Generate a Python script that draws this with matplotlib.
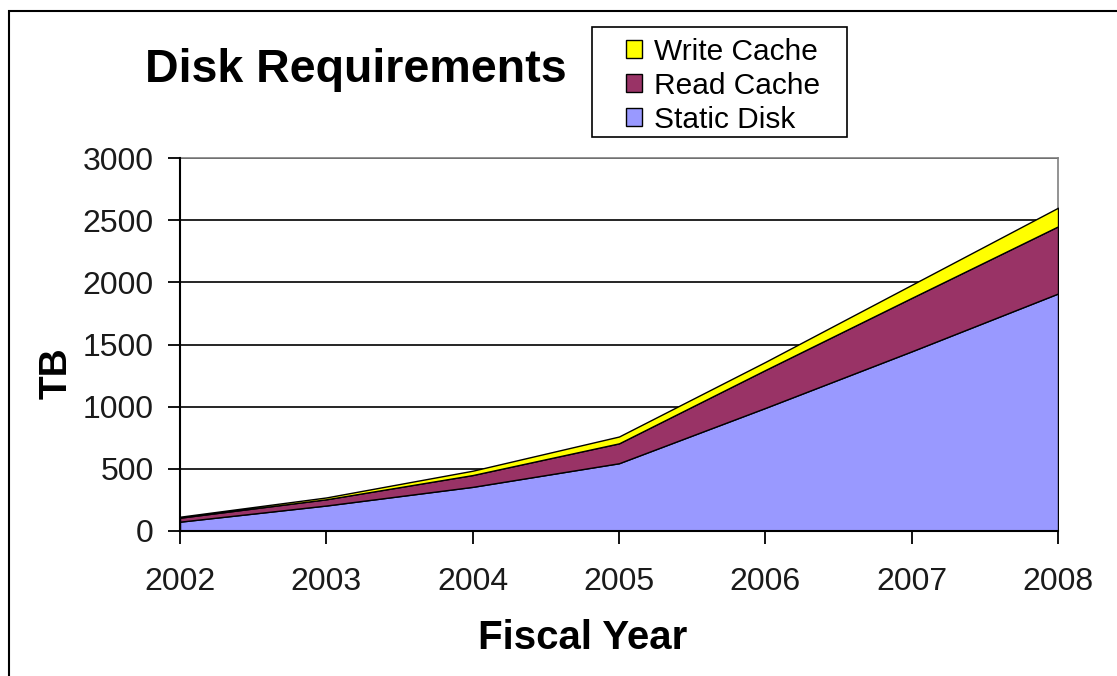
import matplotlib
matplotlib.use('Agg')
import matplotlib.pyplot as plt
from matplotlib.patches import Rectangle, Patch

plt.rcParams['font.family'] = ['Liberation Sans', 'DejaVu Sans']

# Disk requirements per fiscal year, TB
years = [2002, 2003, 2004, 2005, 2006, 2007, 2008]
static_disk = [75, 205, 355, 545, 990, 1445, 1910]
read_cache = [32, 50, 95, 160, 305, 430, 540]
write_cache = [8, 15, 35, 55, 65, 105, 150]

colors = ['#9999FF', '#993366', '#FFFF00']
names = ['Static Disk', 'Read Cache', 'Write Cache']

W, H = 1117, 676
fig = plt.figure(figsize=(W / 100, H / 100), dpi=100)
ax = fig.add_axes([180 / W, (H - 531) / H, 878 / W, 373 / H])

# outer frame (cut off at right/bottom)
fig.patches.append(Rectangle((9 / W, -0.1), 1.2, 1 - 11 / H + 0.1,
                             transform=fig.transFigure, fill=False,
                             edgecolor='black', linewidth=1.5))

ax.stackplot(years, static_disk, read_cache, write_cache, colors=colors,
             edgecolor='black', linewidth=1.0, zorder=3)

ax.set_xlim(2002, 2008)
ax.set_ylim(0, 3000)
ax.set_yticks(range(0, 3001, 500))
ax.set_xticks(years)
ax.yaxis.grid(True, color='black', linewidth=1.2, zorder=1)
ax.set_axisbelow(True)

for s in ['top', 'right']:
    ax.spines[s].set_color('#808080')
    ax.spines[s].set_linewidth(1.2)
for s in ['left', 'bottom']:
    ax.spines[s].set_linewidth(1.5)
    ax.spines[s].set_zorder(4)

ax.tick_params(axis='both', direction='out', length=9, width=1.3,
               labelsize=23, colors='black', labelcolor='#1a1a1a')
ax.tick_params(axis='x', pad=17)
ax.tick_params(axis='y', pad=10)

fig.text(356 / W, 1 - 70 / H, 'Disk Requirements', fontsize=33.5,
         fontweight='bold', ha='center', va='center')
fig.text(583 / W, 1 - 638 / H, 'Fiscal Year', fontsize=29,
         fontweight='bold', ha='center', va='center')
fig.text(57 / W, 1 - 373 / H, 'TB', fontsize=28, fontweight='bold',
         rotation=90, ha='center', va='center')

# legend box drawn separately so it can be wider than its contents
fig.patches.append(Rectangle((592 / W, 1 - 137 / H), 255 / W, 110 / H,
                             transform=fig.transFigure, facecolor='white',
                             edgecolor='black', linewidth=1.2, zorder=5))
handles = [Patch(facecolor=colors[i], edgecolor='black', linewidth=1.0)
           for i in [2, 1, 0]]
labels = [names[i] for i in [2, 1, 0]]
leg = fig.legend(handles, labels, loc='upper left',
                 bbox_to_anchor=(626 / W, 1 - 38 / H), fontsize=21.5,
                 frameon=False, handlelength=0.55, handleheight=0.55,
                 handletextpad=0.4, labelspacing=0.2, borderpad=0,
                 borderaxespad=0)
leg.set_zorder(6)

fig.savefig('out.png', dpi=100)
